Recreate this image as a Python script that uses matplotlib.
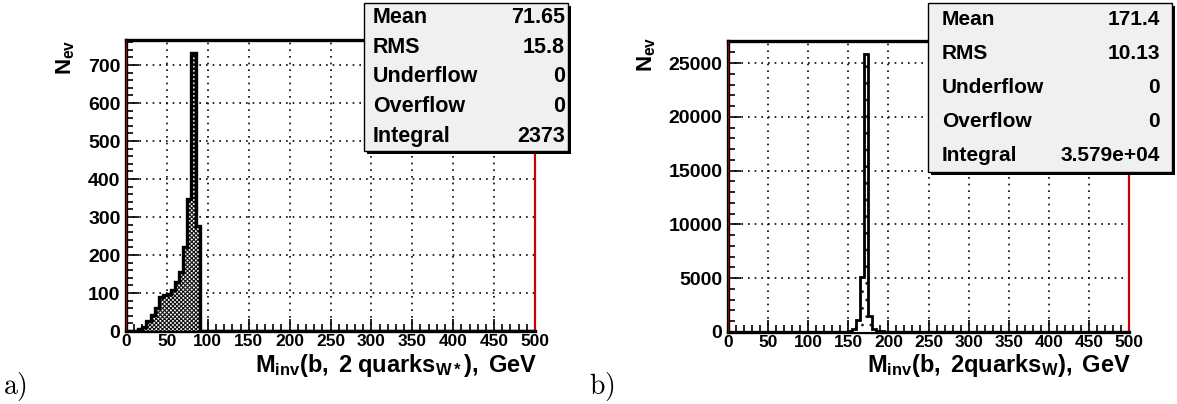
import matplotlib.pyplot as plt
from matplotlib.patches import Rectangle
from matplotlib.ticker import MultipleLocator
import numpy as np

W, H = 1177, 404

plt.rcParams['font.family'] = ['Liberation Sans', 'DejaVu Sans']
plt.rcParams['font.weight'] = 'bold'
plt.rcParams['mathtext.fontset'] = 'custom'
plt.rcParams['mathtext.rm'] = 'Liberation Sans:bold'
plt.rcParams['mathtext.bf'] = 'Liberation Sans:bold'
plt.rcParams['mathtext.it'] = 'Liberation Sans:bold'
plt.rcParams['hatch.linewidth'] = 0.8

# histogram a) : M_inv(b, 2 quarks_W*), 5 GeV bins (bin low edges)
a_lo = [10, 15, 20, 25, 30, 35, 40, 45, 50, 55, 60, 65, 70, 75, 80, 85]
a_counts = [1, 4, 11, 26, 41, 61, 90, 94, 97, 107, 129, 155, 222, 347, 733, 277]
a_stats = [("Mean", "71.65"), ("RMS", "15.8"), ("Underflow", "0"),
           ("Overflow", "0"), ("Integral", "2373")]

# histogram b) : M_inv(b, 2quarks_W)
b_lo = [135, 140, 145, 150, 155, 160, 165, 170, 175, 180, 185, 190, 195, 200, 205]
b_counts = [10, 20, 40, 90, 280, 1150, 5100, 25850, 1450, 320, 130, 60, 30, 15, 8]
b_stats = [("Mean", "171.4"), ("RMS", "10.13"), ("Underflow", "0"),
           ("Overflow", "0"), ("Integral", "3.579e+04")]

edges = np.arange(0, 505, 5)


def full(lo, counts):
    h = np.zeros(len(edges) - 1)
    for x, c in zip(lo, counts):
        h[x // 5] = c
    return h


def fx(x):
    return x / W


def fy(y):
    return 1 - y / H


fig = plt.figure(figsize=(W / 100, H / 100), dpi=100)
axa = fig.add_axes([fx(126), fy(331), (535 - 126) / W, (331 - 40) / H])
axb = fig.add_axes([fx(728), fy(332), (1129 - 728) / W, (332 - 41) / H])


def style(ax, ymax, ymaj, ymin):
    ax.set_xlim(0, 500)
    ax.set_ylim(0, ymax)
    ax.xaxis.set_major_locator(MultipleLocator(50))
    ax.xaxis.set_minor_locator(MultipleLocator(10))
    ax.yaxis.set_major_locator(MultipleLocator(ymaj))
    ax.yaxis.set_minor_locator(MultipleLocator(ymin))
    ax.tick_params(which='both', direction='in', top=False, right=False,
                   width=1.2, pad=4)
    ax.tick_params(axis='y', labelsize=14)
    ax.tick_params(axis='x', labelsize=12.5, pad=2)
    ax.tick_params(which='major', length=9)
    ax.tick_params(which='minor', length=5)
    ax.grid(True, which='major', color='black', linestyle=(0, (1, 3)), linewidth=1.2)
    for lab in ax.get_xticklabels() + ax.get_yticklabels():
        lab.set_fontweight('bold')
    ax.spines['left'].set_linewidth(2.4)
    ax.spines['top'].set_linewidth(2.4)
    ax.spines['bottom'].set_linewidth(2.4)
    ax.spines['right'].set_color('#cc0000')
    ax.spines['right'].set_linewidth(1.6)
    ax.axhline(0, color='#cc0000', lw=0.8, zorder=5)
    ax.axvline(0, color='#cc0000', lw=0.5, zorder=5)


ha = full(a_lo, a_counts)
axa.stairs(ha, edges, fill=True, facecolor='white', edgecolor='#111111',
           hatch='xxxxxxxx', linewidth=0, zorder=3)
axa.stairs(ha, edges, color='black', linewidth=2.4, zorder=4)
style(axa, 766, 100, 20)

hb = full(b_lo, b_counts)
axb.stairs(hb, edges, fill=True, facecolor='white', edgecolor='#222222',
           hatch='..', linewidth=0, zorder=3)
axb.stairs(hb, edges, color='black', linewidth=2.0, zorder=4)
style(axb, 27050, 5000, 1000)

# axis titles
fig.text(fx(537), fy(372), r'$\mathregular{M_{inv}(b,\;2\;quarks_{W*}),\;GeV}$',
         ha='right', va='baseline', fontsize=17)
fig.text(fx(1131), fy(372), r'$\mathregular{M_{inv}(b,\;2quarks_{W}),\;GeV}$',
         ha='right', va='baseline', fontsize=17)
fig.text(fx(66), fy(40), r'$\mathregular{N_{ev}}$', rotation=90,
         ha='center', va='top', fontsize=16)
fig.text(fx(647), fy(37), r'$\mathregular{N_{ev}}$', rotation=90,
         ha='center', va='top', fontsize=16)

# panel letters
fig.text(fx(3), fy(394), r'$\mathrm{a)}$', math_fontfamily='cm', fontsize=20)
fig.text(fx(589), fy(394), r'$\mathrm{b)}$', math_fontfamily='cm', fontsize=20)


def statbox(x0, y0, x1, y1, rows, lx, rx, size):
    fig.patches.append(Rectangle((fx(x0 + 3), fy(y1 + 3)), (x1 - x0) / W, (y1 - y0) / H,
                                 transform=fig.transFigure, facecolor='black',
                                 edgecolor='none', zorder=10))
    fig.patches.append(Rectangle((fx(x0), fy(y1)), (x1 - x0) / W, (y1 - y0) / H,
                                 transform=fig.transFigure, facecolor='#f0f0f0',
                                 edgecolor='black', linewidth=1.0, zorder=11))
    step = (y1 - y0) / len(rows)
    for i, (name, val) in enumerate(rows):
        yc = y0 + step * (i + 0.5)
        fig.text(fx(lx), fy(yc), name, ha='left', va='center', fontsize=size,
                 fontweight='bold', zorder=12)
        fig.text(fx(rx), fy(yc), val, ha='right', va='center', fontsize=size,
                 fontweight='bold', zorder=12)


statbox(364, 3, 568, 151, a_stats, 373, 565, 15.5)
statbox(928, 3, 1172, 172, b_stats, 942, 1160, 15)

fig.savefig('out.png', dpi=100)
